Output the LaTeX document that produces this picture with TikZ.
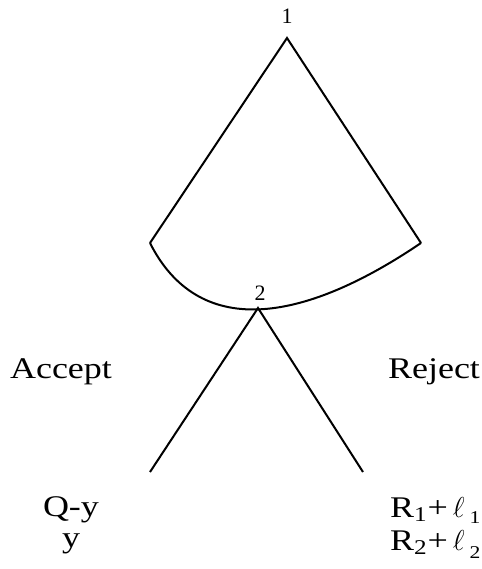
\documentclass[tikz,border=0pt]{standalone}
\usepackage{fontspec}
\setmainfont{Liberation Serif}
\newfontfamily\widefont[FakeStretch=1.2]{Liberation Serif}
\begin{document}
\begin{tikzpicture}[x=0.5pt,y=-0.5pt,line width=1pt,
  lbl/.style={font=\widefont\fontsize{15}{17}\selectfont,anchor=base,inner sep=0pt},
  num/.style={font=\fontsize{11}{13}\selectfont,anchor=base,inner sep=0pt}]
 \useasboundingbox (0,0) rectangle (482,569);
 \coordinate (n1) at (287,38);
 \coordinate (a) at (150,243);
 \coordinate (b) at (421,243);
 \coordinate (n2) at (258,308);
 \coordinate (acc) at (150,472);
 \coordinate (rej) at (363,472);
 \draw (a) -- (n1) -- (b);
 \draw (a) .. controls (198,338) and (300,325) .. (b);
 \draw (acc) -- (n2) -- (rej);
 \node[num] (t1) at (287,23) {1};
 \node[num] (t2) at (260,300) {2};
 \node[lbl] (accept) at (61,378) {Accept};
 \node[lbl] (reject) at (434,378) {Reject};
 \node[lbl] (qy) at (71,516) {Q-y};
 \node[lbl] (y) at (71,547) {y};
 \node[lbl,anchor=base west] (r1) at (389,517)
   {R\textsubscript{1}+\,$\ell$\,\raisebox{-3pt}{\small 1}};
 \node[lbl,anchor=base west] (r2) at (389,550)
   {R\textsubscript{2}+\,$\ell$\,\raisebox{-4pt}{\small 2}};
\end{tikzpicture}
\end{document}
